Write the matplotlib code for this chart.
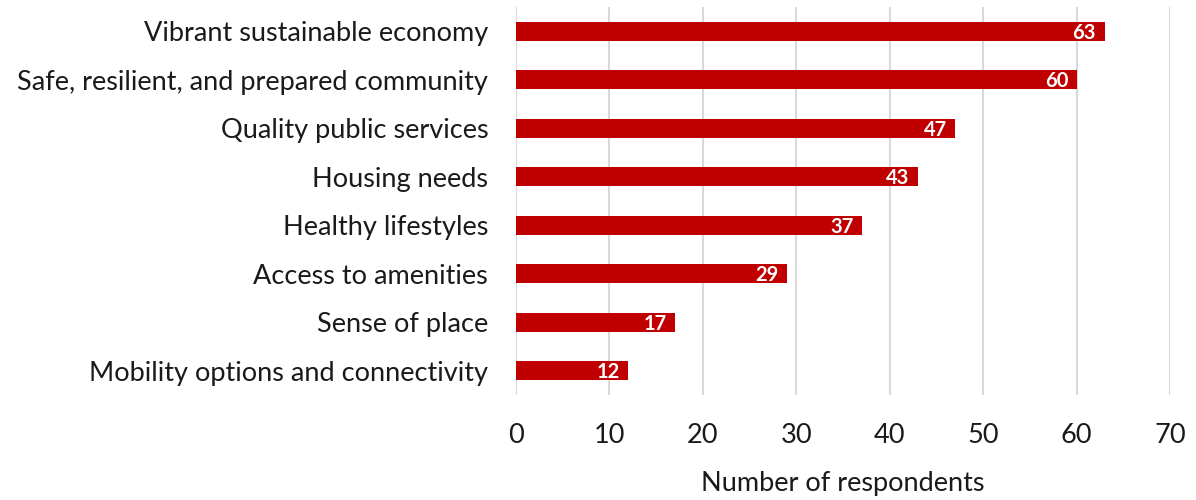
import matplotlib.pyplot as plt

categories = [
    "Vibrant sustainable economy",
    "Safe, resilient, and prepared community",
    "Quality public services",
    "Housing needs",
    "Healthy lifestyles",
    "Access to amenities",
    "Sense of place",
    "Mobility options and connectivity",
]
counts = [63, 60, 47, 43, 37, 29, 17, 12]
xticks = [0, 10, 20, 30, 40, 50, 60, 70]

plt.rcParams["font.family"] = ["Lato", "DejaVu Sans"]

fig = plt.figure(figsize=(11.96, 5.0), dpi=100)
ax = fig.add_axes([0.4314, 0.21, 0.5468, 0.776])

ypos = list(range(len(categories)))
ax.barh(ypos, counts, height=0.4, color="#C00000", zorder=2)

# value labels sit inside the end of each bar
for y, v in zip(ypos, counts):
    ax.text(v - 0.9, y + 0.03, str(v), ha="right", va="center",
            color="white", fontsize=14.5, fontweight="bold", zorder=3)

ax.set_yticks(ypos)
ax.set_yticklabels(categories, fontsize=19.5, color="#1a1a1a")
ax.set_ylim(len(categories) - 0.5, -0.5)
ax.set_xlim(0, 70)
ax.set_xticks(xticks)
ax.tick_params(axis="x", labelsize=19.5, colors="#1a1a1a", length=0, pad=20)
ax.tick_params(axis="y", length=0, pad=20)
ax.set_xlabel("Number of respondents", fontsize=19.5, color="#1a1a1a", labelpad=17)

ax.grid(axis="x", color="#d9d9d9", linewidth=1.5, zorder=0)
for s in ax.spines.values():
    s.set_visible(False)

fig.savefig("out.png", dpi=100)
